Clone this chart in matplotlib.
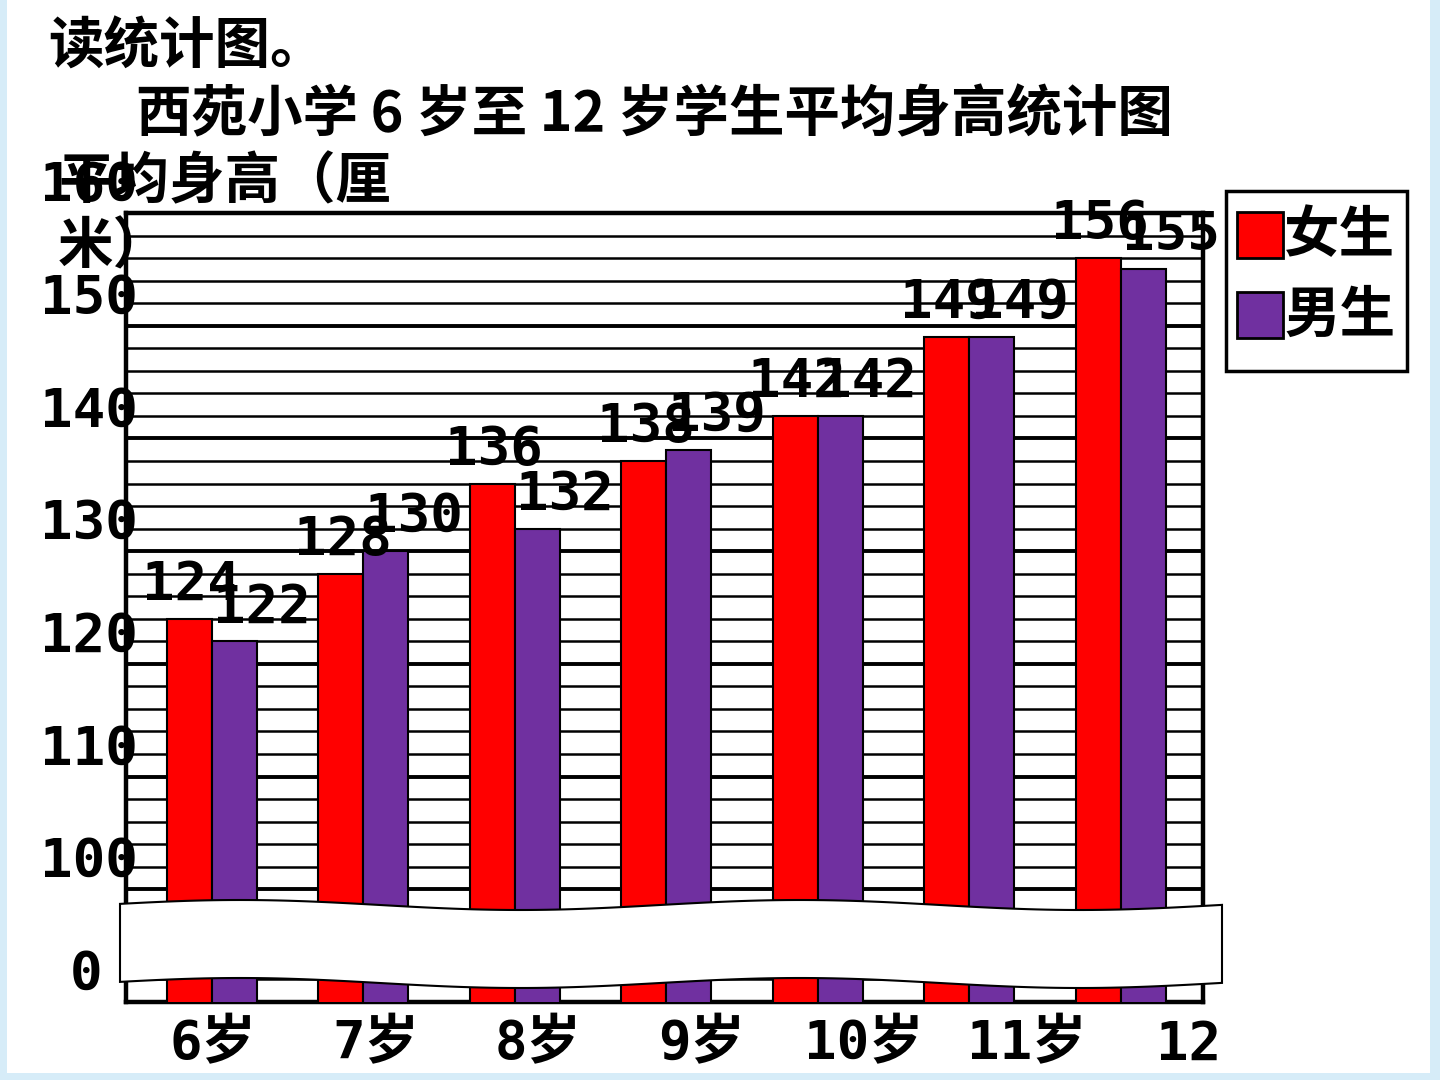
import numpy as np
import matplotlib.pyplot as plt
from matplotlib.patches import Polygon, Rectangle

# 数据：西苑小学6岁至12岁学生平均身高
ages = ['6岁', '7岁', '8岁', '9岁', '10岁', '11岁', '12']
girls = [124, 128, 136, 138, 142, 149, 156]
boys = [122, 130, 132, 139, 142, 149, 155]
names = ['女生', '男生']
colors = ['#FF0000', '#7030A0']
ytick_vals = [90, 100, 110, 120, 130, 140, 150, 160]
ytick_text = ['0', '100', '110', '120', '130', '140', '150', '160']

W, H = 1440, 1080
CJK = ['Noto Sans CJK SC', 'DejaVu Sans']
MONO = ['DejaVu Sans Mono', 'Noto Sans CJK SC']

fig = plt.figure(figsize=(14.4, 10.8), dpi=100)
fig.patch.set_facecolor('white')

# 像素坐标 -> figure坐标
def fx(x):
    return x / W

def fy(y):
    return 1 - y / H

ax = fig.add_axes([fx(126), fy(1002), (1203 - 126) / W, (1002 - 213) / H])
x = np.arange(len(girls))
bw = 0.297
ax.bar(x - bw / 2 + 0.05, girls, bw, color=colors[0], edgecolor='black', linewidth=1.5, zorder=3)
ax.bar(x + bw / 2 + 0.05, boys, bw, color=colors[1], edgecolor='black', linewidth=1.5, zorder=3)
ax.set_xlim(-0.515, 6.594)
ax.set_ylim(90, 160)

# 网格线
ax.set_yticks(ytick_vals)
ax.set_yticks(np.arange(90, 161, 2), minor=True)
ax.grid(which='major', axis='y', color='black', linewidth=2.8)
ax.grid(which='minor', axis='y', color='black', linewidth=1.8)
ax.set_axisbelow(True)
ax.tick_params(axis='y', which='both', length=0, labelleft=False)
for s in ax.spines.values():
    s.set_linewidth(3.2)
    s.set_color('black')

# 纵轴刻度文字（略高于网格线）
for v, t in zip(ytick_vals, ytick_text):
    xpos = 0.011 if t != '0' else -0.022
    ax.text(xpos, v + 2.4, t, transform=ax.get_yaxis_transform(), ha='right', va='center',
            family=MONO, weight='bold', fontsize=39, clip_on=False)

# 横轴
ax.set_xticks(0.06 + 1.0737 * x)
ax.set_xticklabels(ages, family=MONO, weight='bold', fontsize=39)
ax.tick_params(axis='x', length=0, pad=12)

# 数据标签
for xi, g, b in zip(x, girls, boys):
    ax.annotate(str(g), (xi - bw / 2 + 0.05, g), xytext=(2, 34), textcoords='offset pixels',
                ha='center', va='center', family=MONO, weight='bold', fontsize=39, zorder=4)
    ax.annotate(str(b), (xi + bw / 2 + 0.05, b), xytext=(28, 34), textcoords='offset pixels',
                ha='center', va='center', family=MONO, weight='bold', fontsize=39, zorder=4)

# 图例（手工绘制）
fig.add_artist(Rectangle((fx(1226), fy(371)), 181 / W, 180 / H, transform=fig.transFigure,
                         facecolor='white', edgecolor='black', linewidth=2.5, zorder=6))
for i, (nm, c) in enumerate(zip(names, colors)):
    y0 = 212 + 80 * i
    fig.add_artist(Rectangle((fx(1237), fy(y0 + 46)), 46 / W, 46 / H, transform=fig.transFigure,
                             facecolor=c, edgecolor='black', linewidth=2, zorder=7))
    fig.text(fx(1284), fy(y0 + 24), nm, family=CJK, weight='bold', fontsize=40,
             ha='left', va='center', zorder=7)

# 标题文字
fig.text(fx(48), fy(48), '读统计图。', family=CJK, weight='bold', fontsize=40, ha='left', va='center')
fig.text(fx(136), fy(115), '西苑小学 6 岁至 12 岁学生平均身高统计图', family=CJK, weight='bold',
         fontsize=40, ha='left', va='center')
fig.text(fx(58), fy(182), '平均身高（厘', family=CJK, weight='bold', fontsize=40, ha='left', va='center')
fig.text(fx(58), fy(247), '米）', family=CJK, weight='bold', fontsize=40, ha='left', va='center')

# 断裂带
xs = np.linspace(120, 1222, 120)
top = 905 - 5 * np.cos(2 * np.pi * (xs - 240) / 560)
bot = top + 78
pts = np.column_stack([np.r_[xs, xs[::-1]], np.r_[top, bot[::-1]]])
band = Polygon(np.column_stack([fx(pts[:, 0]), fy(pts[:, 1])]), closed=True,
               facecolor='white', edgecolor='black', linewidth=1.5,
               transform=fig.transFigure, zorder=5)
fig.add_artist(band)

# 浅蓝边框
for x0, y0, w, h in [(0, 0, 7, H), (1430, 0, 10, H), (0, 1073, W, 7)]:
    fig.add_artist(Rectangle((fx(x0), fy(y0 + h)), w / W, h / H, transform=fig.transFigure,
                             facecolor='#d6ecf8', edgecolor='none', zorder=0))

plt.savefig('out.png', dpi=100)
